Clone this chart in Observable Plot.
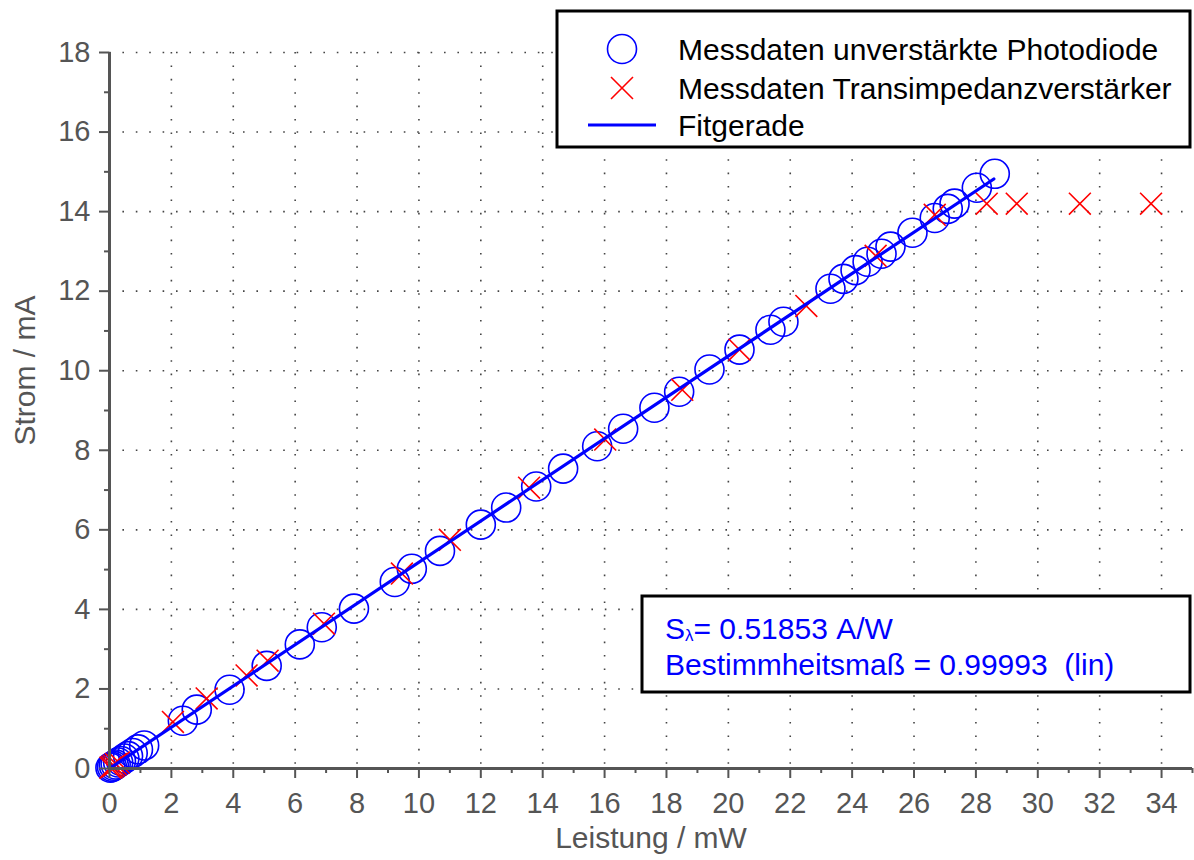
<!DOCTYPE html>
<html><head><meta charset="utf-8">
<script src="https://cdn.jsdelivr.net/npm/d3@7"></script>
<script src="https://cdn.jsdelivr.net/npm/@observablehq/plot@0.6"></script>
<style>
body{margin:0;background:#fff;}
#chart{width:1194px;height:860px;}
</style>
</head><body><div id="chart"></div>
<script>
// Messdaten unverstärkte Photodiode (Leistung mW, Strom mA)
const photoX = [0.03,0.08,0.14,0.20,0.28,0.37,0.48,0.60,0.75,0.92,1.12,
  2.37,2.82,3.88,5.08,6.15,6.86,7.90,9.22,9.77,10.68,12.00,12.82,13.79,14.66,
  15.76,16.60,17.61,18.41,19.39,20.36,21.36,21.78,23.30,23.72,24.11,24.50,
  24.95,25.24,25.95,26.67,27.09,27.31,28.03,28.61];
const photoY = [0.02,0.04,0.07,0.10,0.15,0.19,0.25,0.31,0.39,0.48,0.58,
  1.20,1.48,1.98,2.58,3.12,3.55,4.02,4.69,5.02,5.47,6.13,6.56,7.09,7.54,
  8.10,8.54,9.07,9.47,10.03,10.53,11.03,11.23,12.06,12.31,12.53,12.74,
  12.94,13.12,13.47,13.84,14.07,14.20,14.60,14.95];
// Messdaten Transimpedanzverstärker
const tiaX = [0.03,0.08,0.14,0.21,0.30,2.05,3.14,4.43,5.11,6.93,9.45,11.00,13.56,
  16.02,18.51,20.36,22.52,24.76,26.67,28.35,29.32,31.36,33.66];
const tiaY = [0.02,0.04,0.07,0.11,0.15,1.17,1.76,2.34,2.71,3.64,4.90,5.75,7.06,
  8.27,9.52,10.53,11.63,12.89,13.92,14.20,14.20,14.20,14.20];
// Fitgerade
const fitX = [0, 28.58];
const fitY = [0, 14.82];
// Ticks
const xTicks = [0,2,4,6,8,10,12,14,16,18,20,22,24,26,28,30,32,34];
const xMinor = [1,3,5,7,9,11,13,15,17,19,21,23,25,27,29,31,33,35];
const yTicks = [0,2,4,6,8,10,12,14,16,18];
const yMinor = [1,3,5,7,9,11,13,15,17];
const xGrid = [2,4,6,8,10,12,14,16,18,20,22,24,26,28,30,32,34];
const yGrid = [2,4,6,8,10,12,14,16,18];
const legendLabels = ["Messdaten unverstärkte Photodiode","Messdaten Transimpedanzverstärker","Fitgerade"];
const xLabel = "Leistung / mW";
const yLabel = "Strom / mA";
const fitSens = "0.51853 A/W";
const fitR2 = "Bestimmheitsmaß = 0.99993  (lin)";

const photo = photoX.map((x,i)=>({x, y: photoY[i]}));
const tia = tiaX.map((x,i)=>({x, y: tiaY[i]}));
const fit = fitX.map((x,i)=>({x, y: fitY[i]}));

const FONT = "'Liberation Sans', Arial, sans-serif";
const AX = "#555555";

const chart = Plot.plot({
  width: 1194, height: 860,
  marginLeft: 109, marginRight: 2, marginTop: 52, marginBottom: 92,
  x: {domain: [0, 35]},
  y: {domain: [0, 18]},
  style: {fontFamily: FONT, background: "white", overflow: "visible"},
  marks: [
    Plot.gridX(xGrid, {stroke: "#444", strokeOpacity: 1, strokeWidth: 1.6, strokeDasharray: "1.6,11.8"}),
    Plot.gridY(yGrid, {stroke: "#444", strokeOpacity: 1, strokeWidth: 1.6, strokeDasharray: "1.6,11.8"}),
    Plot.dot(photo, {x: "x", y: "y", r: 14.5, stroke: "#0000ff", strokeWidth: 1.6, fill: "none"}),
    Plot.dot(tia, {x: "x", y: "y", symbol: "times", r: 10, stroke: "#ff0000", strokeWidth: 1.6}),
    Plot.line(fit, {x: "x", y: "y", stroke: "#0000ff", strokeWidth: 3.2}),
    Plot.axisX(xTicks, {tickSize: 10, tickPadding: 14, fontSize: 29, color: AX, strokeWidth: 2, label: null}),
    Plot.axisX(xMinor, {tickSize: 5, tickFormat: () => "", color: AX, strokeWidth: 2, label: null}),
    Plot.axisY(yTicks, {tickSize: 10, tickPadding: 9, fontSize: 29, color: AX, strokeWidth: 2, label: null}),
    Plot.axisY(yMinor, {tickSize: 5, tickFormat: () => "", color: AX, strokeWidth: 2, label: null}),
    Plot.ruleY([0], {stroke: AX, strokeWidth: 3}),
    Plot.ruleX([0], {stroke: AX, strokeWidth: 3}),
    Plot.text([xLabel], {frameAnchor: "bottom", dy: 70, fontSize: 30, fill: AX, lineAnchor: "middle", textAnchor: "middle"}),
    Plot.text([yLabel], {frameAnchor: "left", dx: -84, dy: -40, rotate: -90, fontSize: 30, fill: AX, lineAnchor: "middle", textAnchor: "middle"})
  ]
});
document.getElementById("chart").appendChild(chart);

// Legend (inside plot, top right) and fit-result box
const svg = d3.select(chart);
const lg = svg.append("g").attr("font-family", FONT).attr("text-anchor", "start");
lg.append("rect").attr("x", 557).attr("y", 11).attr("width", 633).attr("height", 136)
  .attr("fill", "white").attr("stroke", "black").attr("stroke-width", 3);
lg.append("circle").attr("cx", 622).attr("cy", 49).attr("r", 14.5)
  .attr("fill", "none").attr("stroke", "#0000ff").attr("stroke-width", 1.6);
lg.append("path").attr("d", "M611,77L633,99M611,99L633,77")
  .attr("stroke", "#ff0000").attr("stroke-width", 1.6);
lg.append("line").attr("x1", 588).attr("x2", 656).attr("y1", 125).attr("y2", 125)
  .attr("stroke", "#0000ff").attr("stroke-width", 3.2);
[49, 88, 125].forEach((cy, i) => {
  lg.append("text").attr("x", 678).attr("y", cy).attr("dy", "0.36em")
    .attr("font-size", 30).attr("fill", "black").text(legendLabels[i]);
});

const tb = svg.append("g").attr("font-family", FONT).attr("text-anchor", "start");
tb.append("rect").attr("x", 642).attr("y", 596).attr("width", 548).attr("height", 96)
  .attr("fill", "white").attr("stroke", "black").attr("stroke-width", 3);
const t1 = tb.append("text").attr("x", 665).attr("y", 628).attr("dy", "0.36em")
  .attr("font-size", 30).attr("fill", "#0000ff");
t1.append("tspan").text("S");
t1.append("tspan").attr("font-size", 17).attr("dy", 2).text("λ");
t1.append("tspan").attr("dy", -2).text("= " + fitSens);
tb.append("text").attr("x", 665).attr("y", 664).attr("dy", "0.36em")
  .attr("font-size", 30).attr("fill", "#0000ff").text(fitR2);
</script>
</body></html>
